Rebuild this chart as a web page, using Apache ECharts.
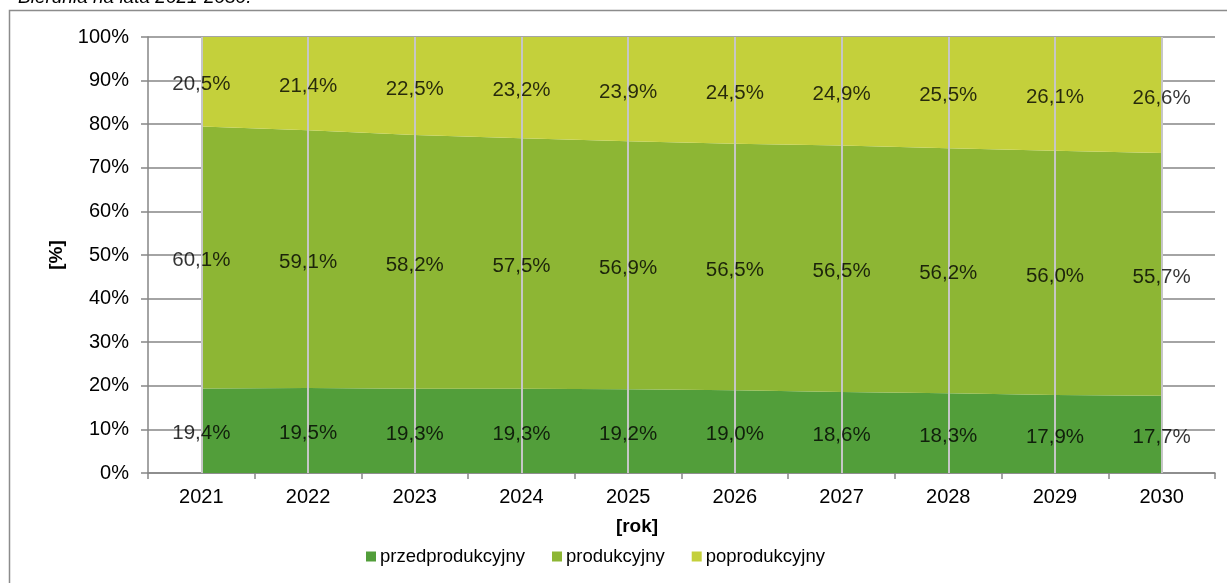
<!DOCTYPE html>
<html>
<head>
<meta charset="utf-8">
<script src="https://cdn.jsdelivr.net/npm/echarts@6/dist/echarts.min.js"></script>
<style>
  html, body { margin: 0; padding: 0; background: #fff; }
  #chart { width: 1227px; height: 583px; }
</style>
</head>
<body>
<div id="chart"></div>
<script>
// Population structure by economic age group, Bieruń 2021-2030 (share in %)
const years = ['2021', '2022', '2023', '2024', '2025', '2026', '2027', '2028', '2029', '2030'];
const przedprodukcyjny = [19.4, 19.5, 19.3, 19.3, 19.2, 19.0, 18.6, 18.3, 17.9, 17.7];
const produkcyjny = [60.1, 59.1, 58.2, 57.5, 56.9, 56.5, 56.5, 56.2, 56.0, 55.7];
const poprodukcyjny = [20.5, 21.4, 22.5, 23.2, 23.9, 24.5, 24.9, 25.5, 26.1, 26.6];
const seriesNames = ['przedprodukcyjny', 'produkcyjny', 'poprodukcyjny'];
const colors = ['#529e3a', '#8db634', '#c4d03b'];

const FONT = '"Liberation Sans", Arial, sans-serif';
const groups = [przedprodukcyjny, produkcyjny, poprodukcyjny];

// Value labels sit in the vertical middle of each stacked band
const labelPoints = [];
years.forEach((y, i) => {
  let base = 0;
  groups.forEach(g => {
    labelPoints.push({ value: [y, base + g[i] / 2], v: g[i] });
    base += g[i];
  });
});

const fmt = v => v.toFixed(1).replace('.', ',') + '%';

const chart = echarts.init(document.getElementById('chart'), null, { renderer: 'canvas' });

const areaSeries = groups.map((g, k) => ({
  name: seriesNames[k],
  type: 'line',
  stack: 'total',
  data: g,
  symbol: 'none',
  lineStyle: { width: 0 },
  areaStyle: { color: colors[k], opacity: 1 },
  itemStyle: { color: colors[k] },
  z: 2,
  silent: true
}));

chart.setOption({
  animation: false,
  backgroundColor: '#fff',
  textStyle: { fontFamily: FONT },
  grid: { left: 148, right: 12, top: 37, bottom: 110 },
  legend: {
    data: seriesNames,
    left: 361,
    top: 542,
    icon: 'rect',
    itemWidth: 10,
    itemHeight: 10,
    itemGap: 27,
    textStyle: { fontFamily: FONT, fontSize: 18.5, color: '#000', padding: [0, 0, 0, -1] }
  },
  xAxis: {
    type: 'category',
    data: years,
    boundaryGap: true,
    axisLine: { lineStyle: { color: '#868686', width: 1.5 } },
    axisTick: { show: true, length: 6, lineStyle: { color: '#868686', width: 1.5 } },
    axisLabel: { color: '#000', fontSize: 20, fontFamily: FONT, margin: 14 },
    splitLine: { show: false }
  },
  yAxis: {
    type: 'value',
    min: 0,
    max: 100,
    interval: 10,
    axisLine: { show: true, lineStyle: { color: '#868686', width: 1.5 } },
    axisTick: { show: true, length: 7, lineStyle: { color: '#868686', width: 1.5 } },
    axisLabel: { color: '#000', fontSize: 20, fontFamily: FONT, margin: 19, formatter: '{value}%' },
    splitLine: { show: true, lineStyle: { color: '#868686', width: 1.5 } }
  },
  series: areaSeries.concat([{
    type: 'scatter',
    data: labelPoints,
    symbolSize: 0,
    z: 5,
    silent: true,
    label: {
      show: true,
      position: 'inside',
      offset: [0, 3],
      color: '#000',
      fontSize: 20.5,
      fontFamily: FONT,
      formatter: p => fmt(p.data.v)
    },
    markLine: {
      silent: true,
      symbol: 'none',
      label: { show: false },
      lineStyle: { color: '#c6c6c6', width: 2, type: 'solid' },
      data: years.map(y => ({ xAxis: y }))
    }
  }]),
  graphic: [
    {
      type: 'rect',
      shape: { x: 9.5, y: 10.5, width: 1400, height: 800 },
      style: { fill: 'none', stroke: '#8c8c8c', lineWidth: 1.5 },
      silent: true
    },
    {
      type: 'text',
      left: 18,
      top: -12,
      style: { text: 'Bierunia na lata 2021-2030.', font: 'italic 19px "Liberation Sans", Arial, sans-serif', fill: '#000' }
    },
    {
      type: 'text',
      x: 57,
      y: 255,
      rotation: Math.PI / 2,
      style: { text: '[%]', font: 'bold 19px "Liberation Sans", Arial, sans-serif', fill: '#000', align: 'center', verticalAlign: 'middle' }
    },
    {
      type: 'text',
      x: 637,
      y: 527,
      style: { text: '[rok]', font: 'bold 19px "Liberation Sans", Arial, sans-serif', fill: '#000', align: 'center', verticalAlign: 'middle' }
    }
  ]
});
</script>
</body>
</html>
